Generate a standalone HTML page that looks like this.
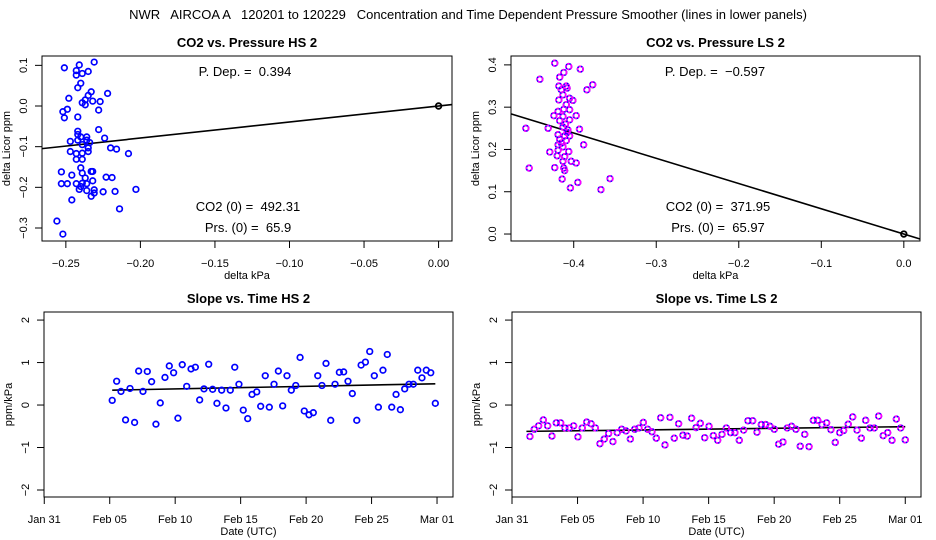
<!DOCTYPE html>
<html><head><meta charset="utf-8"><style>
html,body{margin:0;padding:0;background:#fff;}
svg{display:block;font-family:"Liberation Sans",sans-serif;}
svg text{white-space:pre;}
</style></head><body>
<svg id="chart" width="936" height="540" viewBox="0 0 936 540">
<text x="468" y="19" text-anchor="middle" font-size="13">NWR   AIRCOA A   120201 to 120229   Concentration and Time Dependent Pressure Smoother (lines in lower panels)</text>
<g id="root"></g>
</svg>
<script>
// ---- Panel 1 data (HS pressure scatter) ----
const hsPrsX = [-0.251,-0.241,-0.231,-0.243,-0.243,-0.239,-0.235,-0.240,-0.242,-0.233,-0.235,-0.248,-0.222,-0.237,-0.239,-0.237,-0.232,-0.227,-0.249,-0.252,-0.251,-0.242,-0.228,-0.228,-0.242,-0.242,-0.236,-0.240,-0.224,-0.247,-0.242,-0.236,-0.234,-0.239,-0.235,-0.220,-0.216,-0.247,-0.243,-0.239,-0.235,-0.208,-0.243,-0.239,-0.240,-0.253,-0.246,-0.239,-0.233,-0.232,-0.223,-0.219,-0.253,-0.249,-0.243,-0.237,-0.232,-0.239,-0.240,-0.236,-0.241,-0.236,-0.231,-0.231,-0.233,-0.225,-0.217,-0.203,-0.246,-0.214,-0.256,-0.252];
const hsPrsY = [0.094,0.101,0.108,0.087,0.076,0.080,0.085,0.056,0.045,0.035,0.026,0.019,0.031,0.015,0.008,0.003,0.012,0.011,-0.008,-0.014,-0.029,-0.027,-0.010,-0.058,-0.062,-0.070,-0.076,-0.076,-0.079,-0.087,-0.084,-0.084,-0.090,-0.095,-0.103,-0.103,-0.106,-0.112,-0.117,-0.116,-0.112,-0.117,-0.131,-0.131,-0.152,-0.162,-0.170,-0.165,-0.161,-0.161,-0.175,-0.176,-0.191,-0.191,-0.191,-0.177,-0.184,-0.190,-0.198,-0.191,-0.205,-0.208,-0.206,-0.214,-0.222,-0.211,-0.210,-0.205,-0.231,-0.253,-0.283,-0.315];
const hsDep = 0.394;
// ---- Panel 2 data (LS pressure scatter) ----
const lsPrsX = [-0.423,-0.406,-0.392,-0.412,-0.417,-0.441,-0.377,-0.384,-0.418,-0.409,-0.415,-0.408,-0.413,-0.405,-0.401,-0.418,-0.409,-0.412,-0.419,-0.405,-0.424,-0.413,-0.397,-0.405,-0.417,-0.458,-0.431,-0.393,-0.413,-0.407,-0.419,-0.411,-0.405,-0.417,-0.409,-0.388,-0.419,-0.413,-0.429,-0.419,-0.406,-0.411,-0.413,-0.403,-0.397,-0.454,-0.423,-0.412,-0.414,-0.356,-0.395,-0.404,-0.367,-0.410,-0.415,-0.408,-0.420,-0.411];
const lsPrsY = [0.404,0.396,0.390,0.382,0.371,0.366,0.353,0.341,0.350,0.350,0.341,0.345,0.329,0.321,0.316,0.317,0.306,0.295,0.290,0.294,0.280,0.278,0.280,0.270,0.268,0.250,0.250,0.248,0.253,0.246,0.235,0.232,0.232,0.224,0.221,0.211,0.211,0.206,0.194,0.198,0.195,0.183,0.172,0.172,0.168,0.156,0.157,0.156,0.130,0.131,0.122,0.109,0.105,0.260,0.215,0.240,0.185,0.150];
const lsDep = -0.597;
// ---- Panel 3 data (HS slope vs time, day since Jan 31) ----
const hsDays = [5.19,5.53,5.86,6.21,6.55,6.9,7.21,7.54,7.87,8.2,8.53,8.86,9.22,9.55,9.88,10.21,10.54,10.88,11.21,11.54,11.87,12.2,12.56,12.86,13.19,13.55,13.88,14.21,14.55,14.87,15.2,15.54,15.87,16.23,16.53,16.88,17.19,17.55,17.88,18.21,18.54,18.87,19.21,19.54,19.86,20.22,20.55,20.89,21.21,21.52,21.88,22.21,22.54,22.87,23.2,23.53,23.87,24.2,24.53,24.86,25.21,25.52,25.87,26.2,26.54,26.87,27.2,27.53,27.86,28.19,28.53,28.85,29.18,29.52,29.87];
const hsSlope = [0.11,0.56,0.32,-0.35,0.39,-0.41,0.8,0.32,0.79,0.55,-0.45,0.05,0.65,0.92,0.76,-0.31,0.95,0.44,0.85,0.89,0.12,0.38,0.96,0.37,0.04,0.35,-0.07,0.35,0.89,0.49,-0.12,-0.32,0.25,0.31,-0.03,0.69,-0.05,0.49,0.8,-0.02,0.69,0.35,0.46,1.12,-0.14,-0.23,-0.18,0.69,0.46,0.98,-0.36,0.49,0.77,0.78,0.56,0.27,-0.36,0.94,1.01,1.26,0.69,-0.05,0.82,1.19,-0.05,0.25,-0.11,0.38,0.49,0.49,0.82,0.64,0.82,0.76,0.04];
const hsTrendDays = [5.19,29.87];
const hsTrendVals = [0.35,0.50];
// ---- Panel 4 data (LS slope vs time) ----
const lsDays = [1.37,1.70,2.03,2.39,2.72,3.05,3.38,3.71,4.04,4.37,4.70,5.03,5.36,5.70,6.03,6.36,6.71,7.04,7.37,7.70,8.03,8.37,8.70,9.03,9.36,9.69,10.02,10.35,10.68,11.01,11.34,11.67,12.05,12.38,12.71,13.04,13.37,13.70,14.04,14.37,14.70,15.03,15.36,15.69,16.02,16.35,16.68,17.01,17.34,17.67,18.00,18.36,18.69,19.02,19.35,19.68,20.01,20.34,20.67,21.00,21.33,21.66,21.99,22.33,22.66,22.99,23.32,23.65,24.00,24.33,24.66,25.0,25.3,25.65,25.99,26.32,26.65,26.98,27.31,27.64,27.97,28.32,28.66,28.99,29.32,29.65,30.0];
const lsSlope = [-0.74,-0.57,-0.49,-0.35,-0.49,-0.73,-0.42,-0.42,-0.54,-0.54,-0.49,-0.75,-0.54,-0.40,-0.44,-0.54,-0.91,-0.80,-0.67,-0.86,-0.65,-0.57,-0.61,-0.80,-0.57,-0.54,-0.41,-0.57,-0.63,-0.78,-0.30,-0.94,-0.29,-0.78,-0.44,-0.71,-0.73,-0.31,-0.53,-0.43,-0.77,-0.50,-0.72,-0.83,-0.69,-0.54,-0.65,-0.65,-0.83,-0.59,-0.37,-0.37,-0.64,-0.46,-0.46,-0.50,-0.57,-0.92,-0.87,-0.54,-0.50,-0.57,-0.97,-0.69,-0.98,-0.36,-0.36,-0.46,-0.42,-0.58,-0.88,-0.65,-0.60,-0.45,-0.28,-0.59,-0.78,-0.36,-0.54,-0.54,-0.26,-0.72,-0.65,-0.83,-0.33,-0.54,-0.82];
const lsTrendDays = [1.1,30.0];
const lsTrendVals = [-0.62,-0.51];
// ---- Ticks ----
const hsPrsXTicks = [-0.25,-0.20,-0.15,-0.10,-0.05,0.00];
const hsPrsXLabels = ["\u22120.25","\u22120.20","\u22120.15","\u22120.10","\u22120.05","0.00"];
const hsPrsYTicks = [0.1,0.0,-0.1,-0.2,-0.3];
const hsPrsYLabels = ["0.1","0.0","\u22120.1","\u22120.2","\u22120.3"];
const lsPrsXTicks = [-0.4,-0.3,-0.2,-0.1,0.0];
const lsPrsXLabels = ["\u22120.4","\u22120.3","\u22120.2","\u22120.1","0.0"];
const lsPrsYTicks = [0.4,0.3,0.2,0.1,0.0];
const lsPrsYLabels = ["0.4","0.3","0.2","0.1","0.0"];
const dayTicks = [0,5,10,15,20,25,30];
const dayLabels = ["Jan 31","Feb 05","Feb 10","Feb 15","Feb 20","Feb 25","Mar 01"];
const slopeTicks = [2,1,0,-1,-2];
const slopeLabels = ["2","1","0","\u22121","\u22122"];

const NS = "http://www.w3.org/2000/svg";
const root = document.getElementById('root');
function mk(tag, attrs, parent, txt){
  const e = document.createElementNS(NS, tag);
  for (const k in attrs) e.setAttribute(k, attrs[k]);
  if (txt !== undefined) e.textContent = txt;
  (parent || root).appendChild(e);
  return e;
}
function lin(d0,d1,r0,r1){ return v => r0 + (v-d0)/(d1-d0)*(r1-r0); }

function panel(o){
  const g = mk('g', {});
  
  
  const sx = lin(o.xd[0], o.xd[1], o.L, o.R);
  const sy = lin(o.yd[0], o.yd[1], o.B, o.T);
  const box = mk('rect', {x:o.L, y:o.T, width:o.R-o.L, height:o.B-o.T, fill:'none', stroke:'#000', 'stroke-width':1}, g);
  
  
  const t = mk('text', {x:(o.L+o.R)/2, y:o.T-9, 'text-anchor':'middle', 'font-size':13, 'font-weight':'bold'}, g, o.title);
  
  
  // x axis
  const xa = mk('g', {}, g);
  
  
  o.xt.forEach((v,i) => {
    const x = sx(v);
    mk('line', {x1:x, x2:x, y1:o.B, y2:o.B+7, stroke:'#000'}, xa);
    const tl = mk('text', {x:x, y:o.B+26, 'text-anchor':'middle', 'font-size':11}, xa, o.xl[i]);
    
    
  });
  const xt = mk('text', {x:(o.L+o.R)/2, y:o.B+38, 'text-anchor':'middle', 'font-size':11}, g, o.xtitle);
  
  
  // y axis
  const ya = mk('g', {}, g);
  
  
  o.yt.forEach((v,i) => {
    const y = sy(v);
    mk('line', {x1:o.L-7, x2:o.L, y1:y, y2:y, stroke:'#000'}, ya);
    const tl = mk('text', {x:o.L-15, y:y, 'text-anchor':'middle', 'font-size':11, transform:`rotate(-90 ${o.L-15} ${y})`}, ya, o.yl[i]);
    
    
  });
  const yx = o.L-32, ymid = (o.T+o.B)/2;
  const ytt = mk('text', {x:yx, y:ymid, 'text-anchor':'middle', 'font-size':11, transform:`rotate(-90 ${yx} ${ymid})`}, g, o.ytitle);
  
  
  // line
  if (o.line){
    const ln = mk('line', {x1:sx(o.line[0][0]), y1:sy(o.line[0][1]), x2:sx(o.line[1][0]), y2:sy(o.line[1][1]), stroke:'#000', 'stroke-width':1.6}, g);
    
    
  }
  // points
  const pg = mk('g', {}, g);
  
  
  o.px.forEach((v,i) => {
    const cx = sx(v), cy = sy(o.py[i]);
    const c = mk('circle', {cx:cx, cy:cy, r:2.8, fill:'none', stroke:'#0000ff', 'stroke-width':1.7}, pg);
    
    
    if (o.magenta){
      mk('circle', {cx:cx, cy:cy, r:2.8, fill:'none', stroke:'#ff00ff', 'stroke-width':1.7, 'stroke-dasharray':'2.5 1.2'}, pg);
    }
  });
  if (o.origin){
    const oc = mk('circle', {cx:sx(0), cy:sy(0), r:2.8, fill:'none', stroke:'#000', 'stroke-width':1.8}, g);
    
    
  }
  (o.notes||[]).forEach(n => {
    const nt = mk('text', {x:n[0], y:n[1], 'text-anchor':'middle', 'font-size':13}, g, n[2]);
    
    
  });
}

panel({name:'co2-vs-pressure-hs-panel', title:'CO2 vs. Pressure HS 2', L:42, R:452, T:56, B:241,
  xd:[-0.266,0.009], yd:[-0.332,0.123], xt:hsPrsXTicks, xl:hsPrsXLabels, yt:hsPrsYTicks, yl:hsPrsYLabels,
  xtitle:'delta kPa', ytitle:'delta Licor ppm', px:hsPrsX, py:hsPrsY,
  line:[[-0.266, hsDep*-0.266],[0.009, hsDep*0.009]], origin:true,
  notes:[[245,76,'P. Dep. =  0.394'],[248,211,'CO2 (0) =  492.31'],[248,232,'Prs. (0) =  65.9']]});

panel({name:'co2-vs-pressure-ls-panel', title:'CO2 vs. Pressure LS 2', L:511, R:920, T:56, B:241,
  xd:[-0.476,0.0196], yd:[-0.0165,0.421], xt:lsPrsXTicks, xl:lsPrsXLabels, yt:lsPrsYTicks, yl:lsPrsYLabels,
  xtitle:'delta kPa', ytitle:'delta Licor ppm', px:lsPrsX, py:lsPrsY, magenta:true,
  line:[[-0.476, lsDep*-0.476],[0.0196, lsDep*0.0196]], origin:true,
  notes:[[715,76,'P. Dep. =  \u22120.597'],[718,211,'CO2 (0) =  371.95'],[718,232,'Prs. (0) =  65.97']]});

panel({name:'slope-vs-time-hs-panel', title:'Slope vs. Time HS 2', L:44, R:453, T:312, B:497,
  xd:[-0.02,31.22], yd:[-2.165,2.19], xt:dayTicks, xl:dayLabels, yt:slopeTicks, yl:slopeLabels,
  xtitle:'Date (UTC)', ytitle:'ppm/kPa', px:hsDays, py:hsSlope,
  line:[[hsTrendDays[0],hsTrendVals[0]],[hsTrendDays[1],hsTrendVals[1]]]});

panel({name:'slope-vs-time-ls-panel', title:'Slope vs. Time LS 2', L:512, R:921, T:312, B:497,
  xd:[0,31.2], yd:[-2.165,2.19], xt:dayTicks, xl:dayLabels, yt:slopeTicks, yl:slopeLabels,
  xtitle:'Date (UTC)', ytitle:'ppm/kPa', px:lsDays, py:lsSlope, magenta:true,
  line:[[lsTrendDays[0],lsTrendVals[0]],[lsTrendDays[1],lsTrendVals[1]]]});
</script>
</body></html>
